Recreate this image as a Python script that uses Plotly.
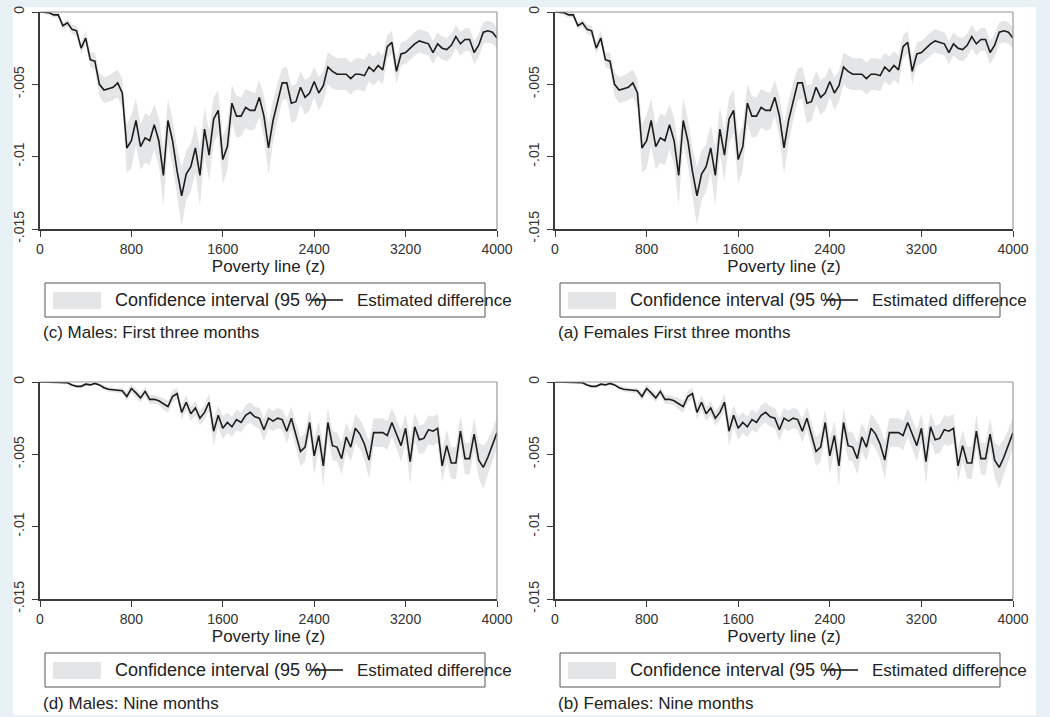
import plotly.graph_objects as go

W, H = 1050, 717

poverty_line = [40 * i for i in range(101)]

# Panels (a)/(c): first three months
est_3m = [0, 0, -0.00005, -0.0002, -0.0002, -0.00095, -0.00075, -0.0012, -0.0013, -0.0025,
          -0.0018, -0.0033, -0.0034, -0.0050, -0.0054, -0.0053, -0.0052, -0.0049, -0.0056, -0.0094,
          -0.0089, -0.0075, -0.0093, -0.0087, -0.0089, -0.0078, -0.0089, -0.0113, -0.0075, -0.0089,
          -0.0110, -0.0127, -0.0112, -0.0107, -0.0094, -0.0113, -0.0081, -0.0099, -0.0074, -0.0068,
          -0.0102, -0.0093, -0.0063, -0.0072, -0.0072, -0.0066, -0.0068, -0.0068, -0.0059, -0.0072,
          -0.0094, -0.0075, -0.0061, -0.0049, -0.0049, -0.0063, -0.0062, -0.0052, -0.0059, -0.0056,
          -0.0048, -0.0056, -0.0051, -0.0038, -0.0041, -0.0043, -0.0043, -0.0043, -0.0046, -0.0043,
          -0.0043, -0.0044, -0.0038, -0.0041, -0.0037, -0.0040, -0.0024, -0.0021, -0.0041, -0.0029,
          -0.0028, -0.0025, -0.0022, -0.0020, -0.0021, -0.0022, -0.0028, -0.0022, -0.0025, -0.0026,
          -0.0023, -0.0017, -0.0022, -0.0019, -0.0019, -0.0028, -0.0023, -0.0014, -0.0013, -0.0014,
          -0.0018]
lo_3m = [0, -0.0001, -0.0002, -0.0004, -0.0004, -0.0012, -0.0010, -0.0015, -0.0017, -0.0029,
         -0.0022, -0.0038, -0.0040, -0.0058, -0.0063, -0.0062, -0.0061, -0.0059, -0.0066, -0.0111,
         -0.0108, -0.0092, -0.0109, -0.0104, -0.0106, -0.0095, -0.0106, -0.0134, -0.0091, -0.0106,
         -0.0128, -0.0148, -0.0130, -0.0124, -0.0111, -0.0134, -0.0098, -0.0117, -0.0091, -0.0084,
         -0.0119, -0.0109, -0.0077, -0.0087, -0.0086, -0.0080, -0.0082, -0.0081, -0.0072, -0.0087,
         -0.0112, -0.0090, -0.0075, -0.0061, -0.0060, -0.0077, -0.0075, -0.0064, -0.0071, -0.0068,
         -0.0059, -0.0068, -0.0062, -0.0050, -0.0053, -0.0054, -0.0054, -0.0054, -0.0057, -0.0054,
         -0.0054, -0.0055, -0.0048, -0.0051, -0.0047, -0.0050, -0.0032, -0.0029, -0.0050, -0.0037,
         -0.0036, -0.0033, -0.0030, -0.0028, -0.0029, -0.0030, -0.0036, -0.0030, -0.0033, -0.0034,
         -0.0031, -0.0025, -0.0030, -0.0027, -0.0027, -0.0036, -0.0031, -0.0022, -0.0021, -0.0022,
         -0.0025]
hi_3m = [0, 0, 0, 0, 0, -0.0007, -0.0005, -0.0009, -0.0009, -0.0021,
         -0.0013, -0.0028, -0.0028, -0.0042, -0.0045, -0.0044, -0.0042, -0.0040, -0.0046, -0.0078,
         -0.0071, -0.0060, -0.0078, -0.0070, -0.0072, -0.0064, -0.0073, -0.0094, -0.0060, -0.0074,
         -0.0094, -0.0107, -0.0096, -0.0091, -0.0078, -0.0094, -0.0066, -0.0082, -0.0059, -0.0054,
         -0.0086, -0.0078, -0.0050, -0.0058, -0.0059, -0.0053, -0.0055, -0.0056, -0.0047, -0.0058,
         -0.0077, -0.0061, -0.0049, -0.0039, -0.0038, -0.0051, -0.0050, -0.0041, -0.0047, -0.0045,
         -0.0038, -0.0045, -0.0041, -0.0028, -0.0030, -0.0032, -0.0032, -0.0032, -0.0035, -0.0032,
         -0.0032, -0.0033, -0.0028, -0.0031, -0.0027, -0.0030, -0.0016, -0.0013, -0.0032, -0.0021,
         -0.0020, -0.0017, -0.0014, -0.0012, -0.0013, -0.0014, -0.0020, -0.0014, -0.0017, -0.0018,
         -0.0015, -0.0009, -0.0014, -0.0011, -0.0011, -0.0020, -0.0015, -0.0007, -0.0006, -0.0007,
         -0.0011]

# Panels (b)/(d): nine months
est_9m = [0, 0, 0, 0, 0, 0, -0.00005, -0.0002, -0.0003, -0.0003,
          -0.00015, -0.0002, -0.0001, -0.0002, -0.0004, -0.0005, -0.00055, -0.0006, -0.0006, -0.0010,
          -0.00045, -0.00075, -0.0011, -0.00065, -0.0012, -0.0012, -0.0013, -0.0015, -0.0017, -0.0010,
          -0.0008, -0.0021, -0.0014, -0.0022, -0.0018, -0.0025, -0.0021, -0.0014, -0.0034, -0.0023,
          -0.0032, -0.0028, -0.0031, -0.0026, -0.0028, -0.0023, -0.0021, -0.0024, -0.0025, -0.0033,
          -0.0025, -0.0027, -0.0025, -0.0026, -0.0034, -0.0025, -0.0037, -0.0048, -0.0045, -0.0028,
          -0.0051, -0.0037, -0.0058, -0.0028, -0.0044, -0.0045, -0.0053, -0.0038, -0.0045, -0.0032,
          -0.0036, -0.0043, -0.0054, -0.0035, -0.0035, -0.0035, -0.0037, -0.0028, -0.0036, -0.0044,
          -0.0032, -0.0055, -0.0031, -0.0040, -0.0039, -0.0033, -0.0034, -0.0032, -0.0058, -0.0044,
          -0.0056, -0.0056, -0.0034, -0.0053, -0.0053, -0.0036, -0.0054, -0.0059, -0.0052, -0.0044,
          -0.0035]
lo_9m = [0, 0, -0.00005, -0.00005, -0.00005, -0.0001, -0.00015, -0.0003, -0.0004, -0.0004,
         -0.00025, -0.0003, -0.0002, -0.0003, -0.00055, -0.00065, -0.0007, -0.00075, -0.0008, -0.0013,
         -0.00075, -0.00105, -0.0014, -0.00095, -0.0015, -0.0015, -0.0016, -0.0019, -0.0021, -0.0014,
         -0.0012, -0.0026, -0.0019, -0.0027, -0.0023, -0.0030, -0.0026, -0.0020, -0.0044, -0.0031,
         -0.0040, -0.0035, -0.0038, -0.0033, -0.0035, -0.0030, -0.0028, -0.0031, -0.0032, -0.0041,
         -0.0032, -0.0034, -0.0032, -0.0033, -0.0042, -0.0033, -0.0046, -0.0058, -0.0055, -0.0037,
         -0.0064, -0.0047, -0.0072, -0.0038, -0.0054, -0.0055, -0.0064, -0.0048, -0.0055, -0.0042,
         -0.0046, -0.0054, -0.0067, -0.0045, -0.0045, -0.0045, -0.0047, -0.0038, -0.0046, -0.0055,
         -0.0042, -0.0071, -0.0041, -0.0050, -0.0049, -0.0043, -0.0044, -0.0042, -0.0069, -0.0055,
         -0.0067, -0.0067, -0.0045, -0.0064, -0.0064, -0.0047, -0.0066, -0.0074, -0.0064, -0.0055,
         -0.0046]
hi_9m = [0, 0, 0, 0, 0, 0, 0.00003, -0.0001, -0.0002, -0.0002,
         -0.00005, -0.0001, 0, -0.0001, -0.00025, -0.00035, -0.0004, -0.00045, -0.0004, -0.0007,
         -0.00015, -0.00045, -0.0008, -0.00035, -0.0009, -0.0009, -0.0010, -0.0011, -0.0013, -0.0006,
         -0.0004, -0.0016, -0.0009, -0.0017, -0.0013, -0.0020, -0.0016, -0.0008, -0.0025, -0.0016,
         -0.0024, -0.0021, -0.0024, -0.0019, -0.0021, -0.0016, -0.0014, -0.0017, -0.0018, -0.0025,
         -0.0018, -0.0020, -0.0018, -0.0019, -0.0026, -0.0017, -0.0028, -0.0038, -0.0035, -0.0019,
         -0.0039, -0.0027, -0.0045, -0.0018, -0.0034, -0.0035, -0.0042, -0.0028, -0.0035, -0.0022,
         -0.0026, -0.0032, -0.0041, -0.0025, -0.0025, -0.0025, -0.0027, -0.0018, -0.0026, -0.0033,
         -0.0022, -0.0039, -0.0021, -0.0030, -0.0029, -0.0023, -0.0024, -0.0022, -0.0047, -0.0033,
         -0.0045, -0.0045, -0.0023, -0.0042, -0.0042, -0.0025, -0.0042, -0.0044, -0.0040, -0.0033,
         -0.0024]

x_ticks = [0, 800, 1600, 2400, 3200, 4000]
y_ticks = [0, -0.005, -0.01, -0.015]
y_ticktext = ["0", "-.005", "-.01", "-.015"]

captions = ["(c) Males: First three months", "(a) Females First three months",
            "(d) Males: Nine months", "(b) Females: Nine months"]
legend_ci = "Confidence interval (95 %)"
legend_est = "Estimated difference"
x_title = "Poverty line (z)"

FONT = "Liberation Sans, Arial, Helvetica, sans-serif"
BAND = "#e4e5e7"
LINE = "#1c1c1c"

def px(x):
    return x / W

def py(y):
    return 1 - y / H

# panel geometry (pixels): left, right, top, bottom
panels = [
    (40, 497, 12, 229),
    (555, 1013, 12, 229),
    (40, 497, 382, 599),
    (555, 1013, 382, 599),
]
series = [(est_3m, lo_3m, hi_3m), (est_3m, lo_3m, hi_3m),
          (est_9m, lo_9m, hi_9m), (est_9m, lo_9m, hi_9m)]

fig = go.Figure()
shapes = []
annotations = []

# white page
shapes.append(dict(type="rect", xref="paper", yref="paper", x0=px(13), x1=px(1036),
                   y0=py(715), y1=py(7), fillcolor="white", line=dict(width=0), layer="below"))

for k, ((l, r, t, b), (est, lo, hi)) in enumerate(zip(panels, series)):
    n = "" if k == 0 else str(k + 1)
    xa, ya = "x" + n, "y" + n
    fig.add_trace(go.Scatter(x=poverty_line, y=hi, xaxis=xa, yaxis=ya, mode="lines",
                             line=dict(width=0, color=BAND), showlegend=False, hoverinfo="skip"))
    fig.add_trace(go.Scatter(x=poverty_line, y=lo, xaxis=xa, yaxis=ya, mode="lines",
                             line=dict(width=0, color=BAND), fill="tonexty", fillcolor=BAND,
                             showlegend=False, hoverinfo="skip"))
    fig.add_trace(go.Scatter(x=poverty_line, y=est, xaxis=xa, yaxis=ya, mode="lines",
                             line=dict(width=1.6, color=LINE), showlegend=False))
    common = dict(showgrid=False, zeroline=False, showline=True, linecolor="#3a3a3a",
                  linewidth=1.5, ticks="outside", ticklen=6, tickcolor="#3a3a3a", tickwidth=1.2,
                  automargin=False,
                  tickfont=dict(size=14, color="#333333", family=FONT))
    fig.update_layout(**{
        "xaxis" + n: dict(domain=[px(l), px(r)], range=[0, 4000], anchor=ya,
                          tickvals=x_ticks, **common,
                          title=dict(text=x_title, font=dict(size=17, color="#222222", family=FONT),
                                     standoff=2)),
        "yaxis" + n: dict(domain=[py(b), py(t)], range=[-0.015, 0], anchor=xa,
                          tickvals=y_ticks, ticktext=y_ticktext, tickangle=-90,
                          ticklabelstandoff=3, **common),
    })
    # top / right frame
    shapes.append(dict(type="line", xref=xa + " domain", yref=ya + " domain", x0=0, x1=1, y0=1, y1=1,
                       line=dict(color="#9a9a9a", width=1.2)))
    shapes.append(dict(type="line", xref=xa + " domain", yref=ya + " domain", x0=1, x1=1, y0=0, y1=1,
                       line=dict(color="#9a9a9a", width=1.2)))
    # legend box
    dx = l - 40
    dy = t - 12
    lb_l, lb_r, lb_t, lb_b = 45 + dx, 485 + dx, 283 + dy, 317 + dy
    shapes.append(dict(type="rect", xref="paper", yref="paper", x0=px(lb_l), x1=px(lb_r),
                       y0=py(lb_b), y1=py(lb_t), line=dict(color="#555555", width=1),
                       fillcolor="rgba(0,0,0,0)"))
    shapes.append(dict(type="rect", xref="paper", yref="paper", x0=px(53 + dx), x1=px(101 + dx),
                       y0=py(309 + dy), y1=py(292 + dy), line=dict(width=0), fillcolor=BAND))
    annotations.append(dict(xref="paper", yref="paper", x=px(113 + dx), y=py(300 + dy),
                            text=legend_ci, showarrow=False, xanchor="left", yanchor="middle",
                            font=dict(size=18, color="#222222", family=FONT)))
    annotations.append(dict(xref="paper", yref="paper", x=px(355 + dx), y=py(300 + dy),
                            text=legend_est, showarrow=False, xanchor="left", yanchor="middle",
                            font=dict(size=17, color="#222222", family=FONT)))
    annotations.append(dict(xref="paper", yref="paper", x=px(41 + dx), y=py(333 + dy),
                            text=captions[k], showarrow=False, xanchor="left", yanchor="middle",
                            font=dict(size=17, color="#222222", family=FONT)))
    shapes.append(dict(type="line", xref="paper", yref="paper", x0=px(311 + dx), x1=px(343 + dx),
                       y0=py(300 + dy), y1=py(300 + dy), line=dict(color=LINE, width=1.6),
                       layer="above"))

fig.update_layout(width=W, height=H, margin=dict(l=0, r=0, t=0, b=0, pad=0, autoexpand=False),
                  paper_bgcolor="#e8f1f5", plot_bgcolor="white",
                  shapes=shapes, annotations=annotations, showlegend=False,
                  font=dict(family=FONT))

fig.write_html("out.html")
